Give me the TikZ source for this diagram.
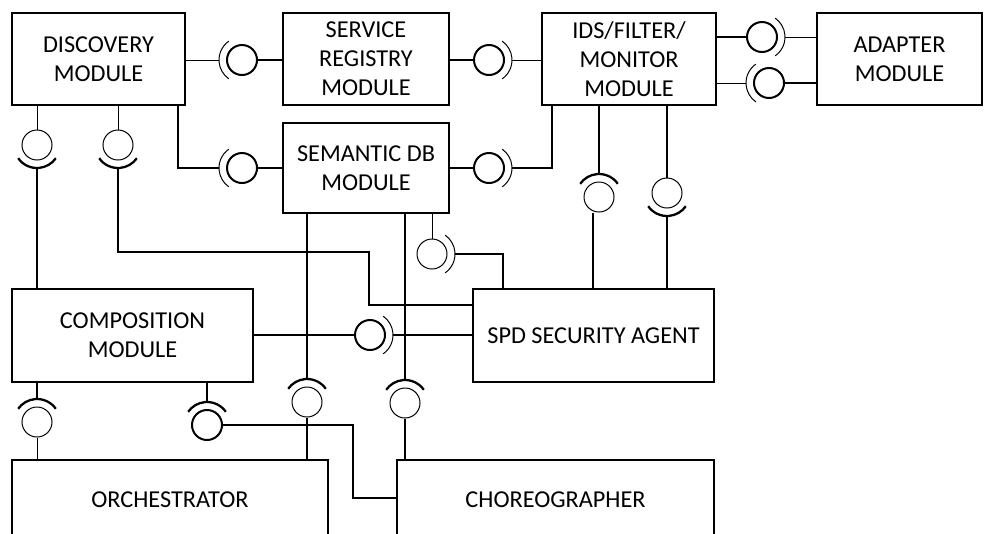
\documentclass[tikz,border=0pt]{standalone}
\usepackage{fontspec}
\setmainfont{Carlito}
\newcommand{\sockt}[4]{\draw[#1] (#2.center) ++(#3:17.25pt) arc[start angle=#3, end angle=#4, radius=17.25pt];}
\begin{document}
\begin{tikzpicture}[x=0.75pt,y=-0.75pt,
  box/.style={draw, line width=1.5pt, rectangle, align=center, inner sep=0pt,
    font=\fontsize{18.2}{21.75}\selectfont},
  thn/.style={line width=0.75pt},
  thk/.style={line width=1.7pt},
  ballthin/.style={circle, draw, line width=0.75pt, minimum size=22.5pt, inner sep=0pt},
  ballthick/.style={circle, draw, line width=1.5pt, minimum size=22.5pt, inner sep=0pt}]
\useasboundingbox (0,0) rectangle (984,533);
% boxes
\node[box, minimum width=129.75pt, minimum height=69pt] (disc) at (98.5,59) {DISCOVERY\\MODULE};
\node[box, minimum width=124.5pt, minimum height=69pt] (sr) at (366,59) {SERVICE\\REGISTRY\\MODULE};
\node[box, minimum width=130.5pt, minimum height=69pt] (ids) at (629,59) {IDS/FILTER/\\MONITOR\\MODULE};
\node[box, minimum width=123.75pt, minimum height=69pt] (ad) at (899.5,59) {ADAPTER\\MODULE};
\node[box, minimum width=124.5pt, minimum height=67.5pt] (sdb) at (366,168) {SEMANTIC DB\\MODULE};
\node[box, minimum width=180.75pt, minimum height=69.75pt] (comp) at (132.5,335.5) {COMPOSITION\\MODULE};
\node[box, minimum width=180.75pt, minimum height=69.75pt] (spd) at (593.5,335.5) {SPD SECURITY AGENT};
\node[box, minimum width=237pt, minimum height=60pt] (orch) at (170,500) {ORCHESTRATOR};
\node[box, minimum width=237.75pt, minimum height=60pt] (ch) at (555.5,500) {CHOREOGRAPHER};
% balls
\node[ballthick] (bA) at (242,60) {};
\node[ballthick] (bB) at (242,168) {};
\node[ballthick] (bC) at (489,60) {};
\node[ballthick] (bD) at (489,168) {};
\node[ballthick] (bE) at (762,37) {};
\node[ballthick] (bF) at (769,83) {};
\node[ballthin] (bG) at (37,145) {};
\node[ballthin] (bH) at (118,145) {};
\node[ballthin] (bI) at (307,402) {};
\node[ballthin] (bJ) at (405,403) {};
\node[ballthin] (bK) at (432,254) {};
\node[ballthick] (bL) at (370,335) {};
\node[ballthin] (bM) at (599,197) {};
\node[ballthin] (bN) at (667,193) {};
\node[ballthin] (bO) at (37,422) {};
\node[ballthick] (bP) at (207,425) {};
% helper coordinates
\coordinate (h1) at (369,252);
\coordinate (h2) at (369,305);
\coordinate (k1) at (503,289);
\coordinate (p1) at (353,498);
% A: discovery - service registry
\draw[thn] (disc.east |- bA) -- ([xshift=-17.25pt]bA.center);
\sockt{thn}{bA}{125}{235}
\draw[thk] (bA.east) -- (sr.west |- bA);
% B: discovery - semantic db
\draw[thk] ([xshift=-6pt]disc.south east) |- ([xshift=-17.25pt]bB.center);
\sockt{thn}{bB}{125}{235}
\draw[thk] (bB.east) -- (sdb.west |- bB);
% C: service registry - ids
\draw[thk] (sr.east |- bC) -- (bC.west);
\sockt{thn}{bC}{-55}{55}
\draw[thn] ([xshift=17.25pt]bC.center) -- (ids.west |- bC);
% D: semantic db - ids
\draw[thk] (sdb.east |- bD) -- (bD.west);
\sockt{thn}{bD}{-55}{55}
\draw[thk] ([xshift=17.25pt]bD.center) -| ([xshift=8.25pt]ids.south west);
% E: ids - adapter (top)
\draw[thk] (ids.east |- bE) -- (bE.west);
\sockt{thn}{bE}{-55}{55}
\draw[thn] ([xshift=17.25pt]bE.center) -- (ad.west |- bE);
% F: ids - adapter (bottom)
\draw[thn] (ids.east |- bF) -- ([xshift=-17.25pt]bF.center);
\sockt{thn}{bF}{125}{235}
\draw[thk] (bF.east) -- (ad.west |- bF);
% G: discovery - composition
\draw[thn] (disc.south -| bG) -- (bG.north);
\sockt{thk}{bG}{215}{325}
\draw[thk] ([yshift=-17.25pt]bG.center) -- (comp.north -| bG);
% H: discovery - spd
\draw[thn] (disc.south -| bH) -- (bH.north);
\sockt{thk}{bH}{215}{325}
\draw[thk] ([yshift=-17.25pt]bH.center) |- (h1) -- (h2) -- (spd.west |- h2);
% I: semantic db - orchestrator
\draw[thk] (sdb.south -| bI) -- ([yshift=17.25pt]bI.center);
\sockt{thk}{bI}{35}{145}
\draw[thk] (bI.south) -- (orch.north -| bI);
% J: semantic db - choreographer
\draw[thk] (sdb.south -| bJ) -- ([yshift=17.25pt]bJ.center);
\sockt{thk}{bJ}{35}{145}
\draw[thk] (bJ.south) -- (ch.north -| bJ);
% K: semantic db - spd
\draw[thn] (sdb.south -| bK) -- (bK.north);
\sockt{thn}{bK}{-55}{55}
\draw[thk] ([xshift=17.25pt]bK.center) -| (k1);
% L: composition - spd
\draw[thk] (comp.east |- bL) -- (bL.west);
\sockt{thn}{bL}{-55}{55}
\draw[thk] ([xshift=17.25pt]bL.center) -- (spd.west |- bL);
% M: ids - spd (left)
\draw[thk] (ids.south -| bM) -- ([yshift=17.25pt]bM.center);
\sockt{thk}{bM}{35}{145}
\draw[thk] ([xshift=-4.5pt]bM.south) -- ([xshift=-4.5pt]spd.north -| bM);
% N: ids - spd (right)
\draw[thk] (ids.south -| bN) -- (bN.north);
\sockt{thk}{bN}{215}{325}
\draw[thk] ([yshift=-17.25pt]bN.center) -- (spd.north -| bN);
% O: composition - orchestrator
\draw[thk] (comp.south -| bO) -- ([yshift=17.25pt]bO.center);
\sockt{thk}{bO}{35}{145}
\draw[thn] (bO.south) -- (orch.north -| bO);
% P: composition - choreographer
\draw[thk] (comp.south -| bP) -- ([yshift=17.25pt]bP.center);
\sockt{thk}{bP}{35}{145}
\draw[thk] (bP.east) -| (p1) -- (ch.west |- p1);
\end{tikzpicture}
\end{document}
